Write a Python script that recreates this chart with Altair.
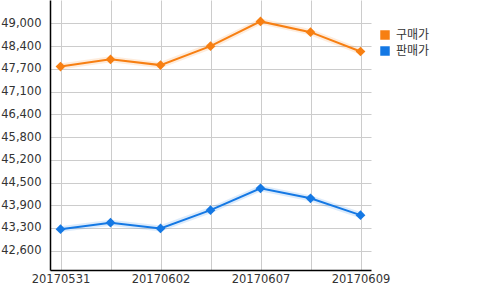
import altair as alt
import pandas as pd

dates = ["20170531", "20170601", "20170602", "20170605", "20170607", "20170608", "20170609"]
buy = [47780, 47980, 47820, 48350, 49040, 48740, 48200]
sell = [43240, 43420, 43260, 43770, 44380, 44100, 43630]
series = ["구매가", "판매가"]
colors = ["#f77f12", "#1478e4"]
y_ticks = [42637 + 635 * k for k in range(11)]
x_labels = ["20170531", "20170602", "20170607", "20170609"]

rows = []
for d, b, s in zip(dates, buy, sell):
    rows.append({"date": d, "series": series[0], "value": b})
    rows.append({"date": d, "series": series[1], "value": s})
df = pd.DataFrame(rows)

label_expr = "indexof(" + str(x_labels) + ", datum.value) >= 0 ? datum.value : ''"

x = alt.X("date:O", sort=dates, scale=alt.Scale(type="point", padding=0.21),
          axis=alt.Axis(title=None, labelAngle=0, labelExpr=label_expr, grid=True,
                        gridColor="#cccccc", domainColor="#000000", domainWidth=1.5,
                        ticks=False, labelPadding=3, labelFont="DejaVu Sans",
                        labelFontSize=11.5, labelColor="#333333"))
y = alt.Y("value:Q", scale=alt.Scale(domain=[42099, 49638], nice=False, zero=False),
          axis=alt.Axis(title=None, values=y_ticks,
                        labelExpr="format(round(datum.value/100)*100, ',')",
                        grid=True, gridColor="#cccccc", domainColor="#000000",
                        domainWidth=1.5, ticks=False, labelPadding=9,
                        labelFont="DejaVu Sans", labelFontSize=11.5, labelColor="#333333"))
color = alt.Color("series:N", scale=alt.Scale(domain=series, range=colors),
                  legend=alt.Legend(title=None, orient="none", legendX=329, legendY=29,
                                    symbolType="square", symbolSize=90, symbolStrokeWidth=0,
                                    symbolOpacity=1,
                                    labelFont="Noto Sans CJK KR", labelFontSize=12,
                                    labelColor="#333333", rowPadding=4, labelOffset=5))

base = alt.Chart(df)
glow = base.mark_line(strokeWidth=6, opacity=0.15).encode(x=x, y=y, color=color)
line = base.mark_line(strokeWidth=2).encode(x=x, y=y, color=color)
pts = base.mark_point(shape="diamond", size=95, filled=True, opacity=1).encode(x=x, y=y, color=color)

chart = alt.layer(glow, line, pts).properties(
    width=321, height=270,
    background="#ffffff",
    padding={"left": 50, "top": 0, "right": 129, "bottom": 20},
    autosize=alt.AutoSizeParams(type="none"),
).configure_view(strokeWidth=0, stroke="transparent")

chart.save("out.html", embed_options={"renderer": "svg", "actions": False})
